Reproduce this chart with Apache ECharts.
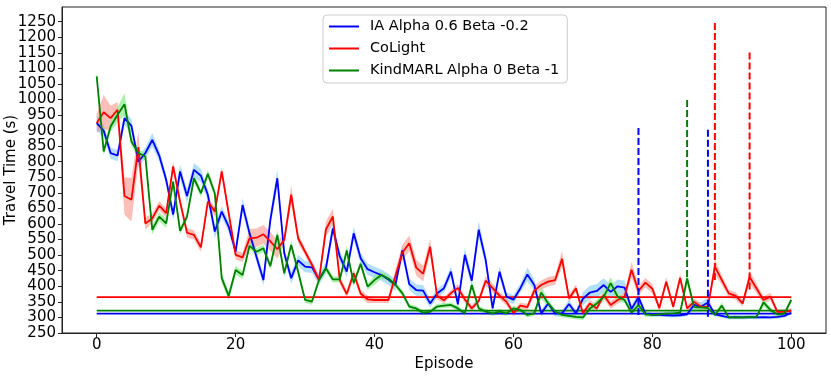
<!DOCTYPE html>
<html>
<head>
<meta charset="utf-8">
<script src="https://cdn.jsdelivr.net/npm/echarts@6/dist/echarts.min.js"></script>
<style>
    html, body { margin: 0; padding: 0; background: #fff; }
    #chart { width: 831px; height: 377px; }
</style>
</head>
<body>
<div id="chart"></div>
<script>
// episodes 0..100
const episodes = Array.from({length: 101}, (_, i) => i)

const iaTravel = [
    924, 900, 828, 820, 940, 915, 800, 828, 870, 820,
    742, 630, 769, 690, 774, 755, 694, 576, 640, 592,
    511, 661, 570, 495, 420, 613, 747, 506, 426, 483,
    463, 461, 422, 458, 586, 495, 447, 570, 490, 455,
    445, 436, 422, 404, 515, 407, 388, 386, 345, 377,
    394, 447, 342, 501, 418, 582, 485, 329, 447, 367,
    357, 394, 438, 404, 313, 345, 313, 313, 343, 313,
    360, 380, 385, 404, 382, 400, 396, 327, 365, 312,
    308, 308, 307, 306, 307, 310, 340, 334, 348, 310,
    305, 300, 301, 300, 301, 300, 301, 300, 302, 305,
    315
]
const colightTravel = [
    924, 959, 940, 967, 690, 678, 847, 602, 618, 659,
    635, 785, 672, 572, 565, 525, 672, 640, 769, 635,
    501, 493, 554, 556, 567, 544, 519, 549, 694, 554,
    511, 469, 420, 583, 624, 420, 375, 442, 377, 358,
    356, 356, 356, 433, 508, 538, 460, 440, 527, 370,
    355, 378, 395, 358, 329, 353, 418, 394, 370, 350,
    314, 338, 333, 386, 404, 415, 420, 488, 361, 394,
    313, 345, 329, 372, 340, 356, 367, 453, 385, 412,
    392, 330, 415, 334, 427, 329, 350, 334, 334, 463,
    420, 377, 369, 345, 430, 393, 356, 367, 318, 318,
    322
]
const kindTravel = [
    1074, 833, 913, 951, 985, 865, 828, 817, 581, 624,
    602, 736, 578, 624, 747, 699, 761, 699, 426, 369,
    452, 436, 530, 511, 522, 465, 565, 442, 533, 447,
    356, 351, 420, 458, 422, 422, 515, 410, 472, 399,
    420, 436, 425, 405, 378, 335, 329, 315, 318, 335,
    338, 340, 329, 313, 404, 329, 319, 313, 319, 313,
    329, 324, 308, 313, 380, 345, 319, 308, 305, 302,
    300, 329, 345, 367, 410, 367, 356, 315, 340, 310,
    308, 310, 312, 313, 315, 425, 333, 332, 330, 308,
    338, 300, 300, 300, 301, 302, 348, 324, 310, 312,
    356
]

// half width of the shaded band
const iaSpread = [
    25, 20, 18, 18, 22, 22, 18, 18, 22, 18,
    18, 18, 22, 22, 22, 22, 18, 22, 18, 18,
    18, 22, 18, 18, 18, 22, 28, 18, 18, 18,
    18, 18, 18, 18, 22, 18, 18, 22, 18, 18,
    18, 18, 18, 18, 18, 18, 18, 18, 14, 14,
    14, 18, 14, 22, 18, 28, 18, 14, 18, 14,
    14, 14, 22, 18, 10, 14, 10, 10, 14, 10,
    22, 22, 22, 22, 22, 22, 22, 14, 14, 8,
    6, 6, 6, 6, 6, 6, 15, 15, 15, 6,
    6, 6, 6, 6, 6, 6, 6, 6, 6, 6,
    6
]
const colightSpread = [
    30, 55, 40, 25, 60, 70, 50, 20, 15, 15,
    15, 15, 15, 15, 15, 15, 15, 15, 15, 15,
    15, 15, 30, 30, 30, 30, 30, 15, 30, 15,
    12, 12, 12, 25, 25, 12, 12, 12, 12, 12,
    10, 10, 10, 20, 25, 25, 25, 25, 25, 12,
    10, 10, 12, 12, 10, 10, 15, 15, 12, 12,
    10, 10, 10, 15, 15, 15, 15, 25, 12, 12,
    10, 12, 10, 12, 12, 12, 12, 25, 15, 15,
    15, 10, 15, 10, 15, 10, 12, 10, 10, 25,
    15, 12, 12, 10, 20, 15, 12, 12, 8, 8,
    8
]
const kindSpread = [
    15, 12, 15, 25, 35, 15, 12, 12, 15, 15,
    15, 12, 12, 12, 12, 12, 12, 12, 15, 15,
    15, 12, 12, 12, 12, 12, 15, 12, 15, 12,
    10, 10, 10, 12, 10, 10, 15, 10, 12, 10,
    15, 12, 10, 10, 10, 8, 8, 8, 8, 8,
    8, 8, 8, 8, 15, 8, 8, 8, 8, 8,
    8, 8, 8, 8, 20, 10, 8, 8, 8, 8,
    8, 10, 12, 15, 20, 15, 10, 8, 10, 8,
    6, 6, 6, 6, 6, 20, 10, 8, 8, 6,
    10, 6, 6, 6, 6, 6, 12, 8, 6, 6,
    10
]

// horizontal reference levels
const baseLevels = [312, 365, 322]

// dashed marks: episode, low, high
const markEpisodes = [78, 88, 85, 89, 94]
const markLow = [308, 302, 430, 420, 390]
const markHigh = [908, 906, 998, 1247, 1152]
const markSeries = [0, 0, 2, 1, 1]

const seriesNames = ['IA Alpha 0.6 Beta -0.2', 'CoLight', 'KindMARL Alpha 0 Beta -1']
const yTicks = [250, 300, 350, 400, 450, 500, 550, 600, 650, 700, 750, 800, 850, 900, 950, 1000, 1050, 1100, 1150, 1200, 1250]
const xTicks = [0, 20, 40, 60, 80, 100]

const lineColors = ['#0000ff', '#ff0000', '#008000']
const bandColors = ['rgba(135,206,250,0.65)', 'rgba(250,128,114,0.5)', 'rgba(144,238,144,0.75)']

const travels = [iaTravel, colightTravel, kindTravel]
const spreads = [iaSpread, colightSpread, kindSpread]

const font = 'DejaVu Sans'

const bandSeries = (idx) => {
    const vals = travels[idx]
    const sp = spreads[idx]
    return {
        type: 'custom',
        silent: true,
        z: 1,
        data: [[0, vals[0]]],
        renderItem: (params, api) => {
            const top = episodes.map((e, i) => api.coord([e, vals[i] + sp[i]]))
            const bottom = episodes.map((e, i) => api.coord([e, vals[i] - sp[i]])).reverse()
            return {
                type: 'polygon',
                shape: {points: top.concat(bottom)},
                style: {fill: bandColors[idx]}
            }
        }
    }
}

const series = []
for (let i = 0; i < 3; i++) series.push(bandSeries(i))
for (let i = 0; i < 3; i++) {
    series.push({
        name: seriesNames[i],
        type: 'line',
        z: 3,
        showSymbol: false,
        symbol: 'none',
        data: episodes.map((e, k) => [e, travels[i][k]]),
        itemStyle: {color: lineColors[i]},
        lineStyle: {color: lineColors[i], width: 1.8}
    })
}
for (let i = 0; i < 3; i++) {
    series.push({
        type: 'line',
        z: 2,
        symbol: 'none',
        data: [[episodes[0], baseLevels[i]], [episodes[100], baseLevels[i]]],
        lineStyle: {color: lineColors[i], width: 1.8}
    })
}
markEpisodes.forEach((e, i) => {
    series.push({
        type: 'line',
        z: 4,
        symbol: 'none',
        data: [[e, markLow[i]], [e, markHigh[i]]],
        lineStyle: {color: lineColors[markSeries[i]], width: 2, type: [7, 3]}
    })
})

const option = {
    animation: false,
    backgroundColor: '#fff',
    grid: {
        left: 62, right: 5, top: 7, bottom: 44,
        containLabel: false,
        outerBoundsMode: 'none',
        show: true, borderColor: '#222', borderWidth: 1
    },
    legend: {
        data: seriesNames,
        orient: 'vertical',
        left: 323,
        top: 15,
        icon: 'rect',
        itemWidth: 30,
        itemHeight: 2,
        itemGap: 5,
        padding: [3, 8, 4, 6],
        borderColor: '#ccc',
        borderWidth: 1,
        borderRadius: 4,
        backgroundColor: 'rgba(255,255,255,0.8)',
        textStyle: {fontFamily: font, fontSize: 14.5, color: '#000', lineHeight: 17, padding: [0, 0, 0, 6]}
    },
    xAxis: {
        type: 'value',
        min: -5,
        max: 105,
        name: 'Episode',
        nameLocation: 'middle',
        nameGap: 24,
        nameMoveOverlap: false,
        nameTextStyle: {fontFamily: font, fontSize: 15, color: '#000'},
        splitLine: {show: false},
        axisLine: {onZero: false, lineStyle: {color: '#222'}},
        axisTick: {show: true, length: 4, customValues: xTicks, lineStyle: {color: '#222'}},
        axisLabel: {customValues: xTicks, margin: 5, fontFamily: font, fontSize: 15, color: '#000'}
    },
    yAxis: {
        type: 'value',
        min: 250,
        max: 1297,
        name: 'Travel Time (s)',
        nameLocation: 'middle',
        nameGap: 43,
        nameMoveOverlap: false,
        nameTextStyle: {fontFamily: font, fontSize: 15, color: '#000'},
        splitLine: {show: false},
        axisLine: {show: true, onZero: false, lineStyle: {color: '#222'}},
        axisTick: {show: true, length: 4, customValues: yTicks, lineStyle: {color: '#222'}},
        axisLabel: {
            customValues: yTicks, margin: 6, fontFamily: font, fontSize: 15, color: '#000',
            formatter: (v) => String(v)
        }
    },
    series: series
}

const myChart = echarts.init(document.getElementById('chart'))
myChart.setOption(option)
</script>
</body>
</html>
